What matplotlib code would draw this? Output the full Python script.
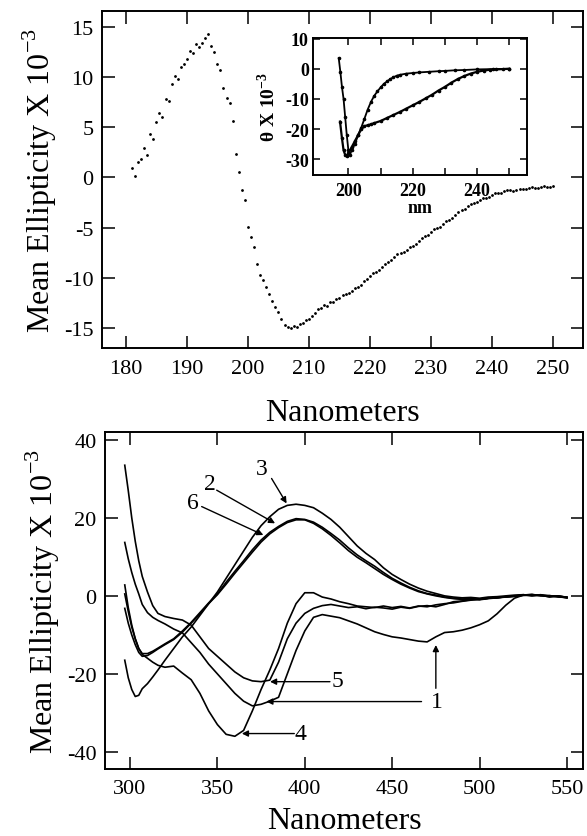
import matplotlib.pyplot as plt
import numpy as np

plt.rcParams['font.family'] = 'Liberation Serif'
plt.rcParams['mathtext.fontset'] = 'custom'
plt.rcParams['mathtext.rm'] = 'Liberation Serif'
plt.rcParams['mathtext.bf'] = 'Liberation Serif:bold'
plt.rcParams['axes.unicode_minus'] = False

# far-UV CD spectrum, sampled every 0.5 nm
uv_nm = np.arange(181, 250.5, 0.5)
uv_ell = [0.9, 0.1, 1.5, 1.8, 2.9, 2.2, 4.3, 3.8, 5.5, 6.4,
          6.0, 7.8, 7.6, 9.3, 10.1, 9.8, 11.0, 11.3, 11.8, 12.6,
          12.4, 13.3, 13.0, 13.4, 13.9, 14.3, 13.1, 12.5, 11.3, 10.7,
          8.9, 7.9, 7.4, 5.6, 2.3, 0.5, -1.2, -2.2,
          -4.9, -5.9, -6.9, -8.6, -9.7, -10.2, -10.9, -11.6, -12.3, -12.9,
          -13.4, -14.1, -14.7, -14.9, -15.0, -14.8, -14.9, -14.6, -14.5, -14.2,
          -14.1, -13.8, -13.5, -13.1, -13.0, -12.7, -12.8, -12.4, -12.4, -12.1,
          -12.0, -11.7, -11.6, -11.5, -11.3, -11.0, -10.9, -10.7, -10.3, -10.1,
          -9.8, -9.5, -9.4, -9.2, -8.9, -8.6, -8.4, -8.2, -7.9, -7.6,
          -7.5, -7.4, -7.2, -6.9, -6.8, -6.6, -6.3, -6.0, -5.8, -5.7,
          -5.4, -5.1, -5.0, -4.9, -4.6, -4.3, -4.2, -4.0, -3.7, -3.4,
          -3.2, -3.1, -2.8, -2.6, -2.5, -2.4, -2.2, -2.0, -2.0, -1.9,
          -1.7, -1.5, -1.5, -1.5, -1.3, -1.2, -1.2, -1.3, -1.2, -1.1,
          -1.1, -1.1, -1.0, -0.9, -1.0, -1.0, -0.9, -0.8, -0.9, -0.9,
          -0.8]

# inset spectra
ins_nm_a = [197, 197.5, 198, 198.5, 199, 199.5, 200, 200.5, 201, 202, 203, 204,
            205, 206, 207, 208, 209, 210, 211, 212, 213, 214, 215, 216, 218,
            220, 222, 225, 228, 230, 233, 236, 240, 245, 250]
ins_a = [3.5, -1, -6, -10, -16, -22, -27, -28.5, -27, -25, -22, -19.5,
         -16.5, -13.5, -11, -9, -7.5, -6.2, -5, -4.2, -3.4, -2.8, -2.3, -2.0, -1.6,
         -1.4, -1.2, -1.0, -0.8, -0.7, -0.5, -0.4, -0.2, -0.1, 0.0]
ins_nm_b = [197.4, 198, 198.5, 199, 199.5, 200, 201, 202, 203, 204, 205, 206,
            207, 208, 210, 212, 214, 216, 218, 220, 222, 224, 226, 228, 230,
            232, 234, 236, 238, 240, 242, 244, 246, 248, 250]
ins_b = [-17.5, -23, -27, -28.5, -29, -28, -26, -24, -22, -20, -19, -18.7,
         -18.4, -18, -17.3, -16.3, -15.3, -14.3, -13.2, -12.1, -11, -9.8, -8.6, -7.2, -6,
         -4.6, -3.4, -2.4, -1.6, -1.0, -0.6, -0.3, -0.2, -0.1, 0.0]

# near-UV / visible spectra
vis_nm = [297, 299, 301, 303, 305, 307, 310, 313, 316, 320,
          325, 330, 335, 340, 345, 350, 355, 360, 365, 370,
          375, 380, 385, 390, 395, 400, 405, 410, 415, 420,
          425, 430, 435, 440, 445, 450, 455, 460, 465, 470,
          475, 480, 485, 490, 495, 500, 505, 510, 515, 520,
          525, 530, 535, 540, 545, 550]
curve1 = [13.7, 9.5, 6, 3, 0.5, -2.2, -4.3, -5.5, -6.3, -7.2,
          -8.5, -9.5, -12, -14.5, -17.5, -20, -22.5, -25, -27, -28.2,
          -27.8, -27, -26, -20, -14, -9, -5.5, -4.8, -5.2, -5.6,
          -6.4, -7.2, -8.2, -9.2, -9.9, -10.5, -10.8, -11.2, -11.6, -11.8,
          -10.5, -9.4, -9.2, -8.8, -8.2, -7.4, -6.4, -4.6, -2.4, -0.6,
          0.2, 0.4, 0.0, 0.1, -0.3, -0.4]
curve2 = [2.8, -3, -7.5, -11, -13.5, -14.8, -14.8, -14.2, -13.4, -12.3,
          -11, -9, -6.8, -4.3, -1.8, 0.5, 3.5, 6.3, 9, 11.8,
          14.3, 16.3, 17.8, 19.1, 19.8, 19.6, 18.9, 17.6, 16.0, 14.3,
          12.3, 10.5, 9.0, 7.6, 6.0, 4.5, 3.3, 2.2, 1.3, 0.6,
          0.2, -0.3, -0.6, -0.8, -0.7, -0.9, -0.6, -0.5, -0.2, 0.0,
          0.2, 0.1, 0.3, -0.1, 0.0, -0.4]
curve3 = [-16.5, -21, -24, -25.8, -25.5, -23.8, -22.5, -20.8, -19, -16.5,
          -13.5, -10.5, -8, -5, -2, 1, 4.5, 8, 11.5, 15,
          18, 20.3, 22.2, 23.2, 23.5, 23.2, 22.6, 21.2, 19.6, 17.6,
          15.2, 12.8, 10.9, 9.3, 7.2, 5.5, 4.2, 3.0, 2.0, 1.2,
          0.6, 0.0, -0.3, -0.5, -0.4, -0.6, -0.3, -0.2, 0.0, 0.2,
          0.3, 0.1, 0.2, 0.0, -0.1, -0.3]
curve4 = [0.5, -4, -8, -11, -13.5, -15, -16, -17, -17.8, -18.3,
          -18.0, -19.8, -21.5, -25, -29.5, -33, -35.5, -36, -34.5, -29.5,
          -24, -19, -13.5, -7, -2, 0.8, 0.8, -0.3, -0.8, -1.5,
          -2.0, -2.6, -2.8, -3.0, -2.6, -3.0, -2.7, -3.1, -2.6, -2.8,
          -2.3, -2.0, -1.8, -1.4, -1.1, -0.9, -0.6, -0.5, -0.2, -0.1,
          0.3, 0.0, 0.2, -0.3, 0.0, -0.4]
curve5 = [33.5, 27, 20, 14, 9, 5, 1, -2.5, -4.5, -5.3,
          -5.8, -6.2, -7.5, -10.5, -13.5, -15.5, -17.5, -19.5, -21.0, -21.8,
          -22.0, -21.6, -17, -11, -7, -4.5, -3.2, -2.5, -2.2, -2.6,
          -3.0, -2.8, -3.3, -2.9, -3.1, -3.4, -2.9, -3.2, -2.7, -2.5,
          -2.8, -2.2, -1.5, -1.3, -1.0, -0.8, -0.6, -0.4, -0.3, -0.1,
          0.2, 0.3, 0.1, -0.2, -0.1, -0.5]
curve6 = [-3.2, -7, -10, -12.5, -14.5, -15.5, -15.3, -14.5, -13.6, -12.5,
          -11.2, -9.3, -7.0, -4.6, -2.0, 0.3, 3.0, 5.8, 8.5, 11.2,
          13.8, 15.9, 17.5, 18.8, 19.5, 19.5, 18.6, 17.2, 15.5, 13.6,
          11.6, 9.9, 8.5, 7.0, 5.5, 4.2, 3.0, 2.0, 1.1, 0.5,
          0.0, -0.4, -0.7, -0.9, -0.8, -1.0, -0.7, -0.5, -0.3, -0.1,
          0.1, 0.2, 0.1, 0.0, -0.2, -0.5]

# curve labels: text position, arrow tail, arrow head
labels = [('3', (375.3, 32.7), (381, 30.1), (389.6, 23.7)),
          ('2', (345.8, 28.8), (349.6, 27.1), (383, 18.6)),
          ('6', (336.2, 24.0), (341, 22.9), (376.3, 15.6)),
          ('5', (418.7, -21.6), (414.4, -22), (380.1, -22)),
          ('1', (475.5, -27.1), (466.8, -27.1), (378, -27.1)),
          ('4', (397.3, -35.3), (394, -35.3), (364, -35.3))]

ylab = 'Mean Ellipticity X 10$^{-3}$'

fig = plt.figure(figsize=(5.87, 8.37), dpi=100)
ax1 = fig.add_axes([0.1738, 0.5830, 0.8194, 0.4027])
ax2 = fig.add_axes([0.1789, 0.0800, 0.8143, 0.4026])
axi = fig.add_axes([0.5332, 0.7897, 0.3646, 0.1637])


def style(ax, size, length):
    for s in ax.spines.values():
        s.set_linewidth(1.4)
    ax.tick_params(direction='in', top=True, right=True, length=length,
                   width=1.1, labelsize=size, pad=6)


# top panel
ax1.plot(uv_nm, uv_ell, ls='none', marker='.', ms=2.0, color='black')
ax1.set_xlim(176.1, 254.9)
ax1.set_ylim(-17.0, 16.6)
ax1.set_xticks(np.arange(180, 251, 10))
ax1.set_yticks(np.arange(-15, 16, 5))
style(ax1, 16, 9)
ax1.tick_params(axis='x', pad=8)
ax1.set_xlabel('Nanometers', fontsize=23, labelpad=14)
ax1.set_ylabel(ylab, fontsize=23, labelpad=4)

# inset
axi.plot(ins_nm_a, ins_a, color='black', lw=1.3, marker='o', ms=1.6)
axi.plot(ins_nm_b, ins_b, color='black', lw=1.6, marker='o', ms=1.6)
axi.set_xlim(189, 255.5)
axi.set_ylim(-35.2, 10.2)
axi.set_xticks(np.arange(200, 251, 10))
axi.set_xticklabels(['200', '', '220', '', '240', ''])
axi.set_yticks([10, 0, -10, -20, -30])
style(axi, 13, 5)
for t in axi.get_xticklabels() + axi.get_yticklabels():
    t.set_fontweight('bold')
axi.tick_params(axis='y', pad=3)
axi.tick_params(axis='x', pad=5)
axi.set_xlabel('nm', fontsize=13, fontweight='bold', labelpad=0)
axi.set_ylabel(r'θ X 10$^{\mathbf{-3}}$', fontsize=14, fontweight='bold', labelpad=4)

# bottom panel
for c in [curve1, curve2, curve3, curve4, curve5, curve6]:
    ax2.plot(vis_nm, c, color='black', lw=1.2)
ax2.set_xlim(285.7, 559.2)
ax2.set_ylim(-44.4, 42.0)
ax2.set_xticks(np.arange(300, 551, 50))
ax2.set_yticks(np.arange(-40, 41, 20))
style(ax2, 16, 9)
ax2.tick_params(axis='x', pad=7)
ax2.set_xlabel('Nanometers', fontsize=23, labelpad=6)
ax2.set_ylabel(ylab, fontsize=23, labelpad=4)

for txt, pos, tail, head in labels:
    ax2.text(pos[0], pos[1], txt, fontsize=17, ha='center', va='center')
    ax2.annotate('', xy=head, xytext=tail,
                 arrowprops=dict(arrowstyle='-|>', color='black', lw=1.0,
                                 mutation_scale=9, shrinkA=0, shrinkB=0))
# second arrow from label 1 up to the dip near 475 nm
ax2.annotate('', xy=(475, -12.6), xytext=(475, -23.7),
             arrowprops=dict(arrowstyle='-|>', color='black', lw=1.0,
                             mutation_scale=9, shrinkA=0, shrinkB=0))

fig.savefig('out.png', dpi=100)
